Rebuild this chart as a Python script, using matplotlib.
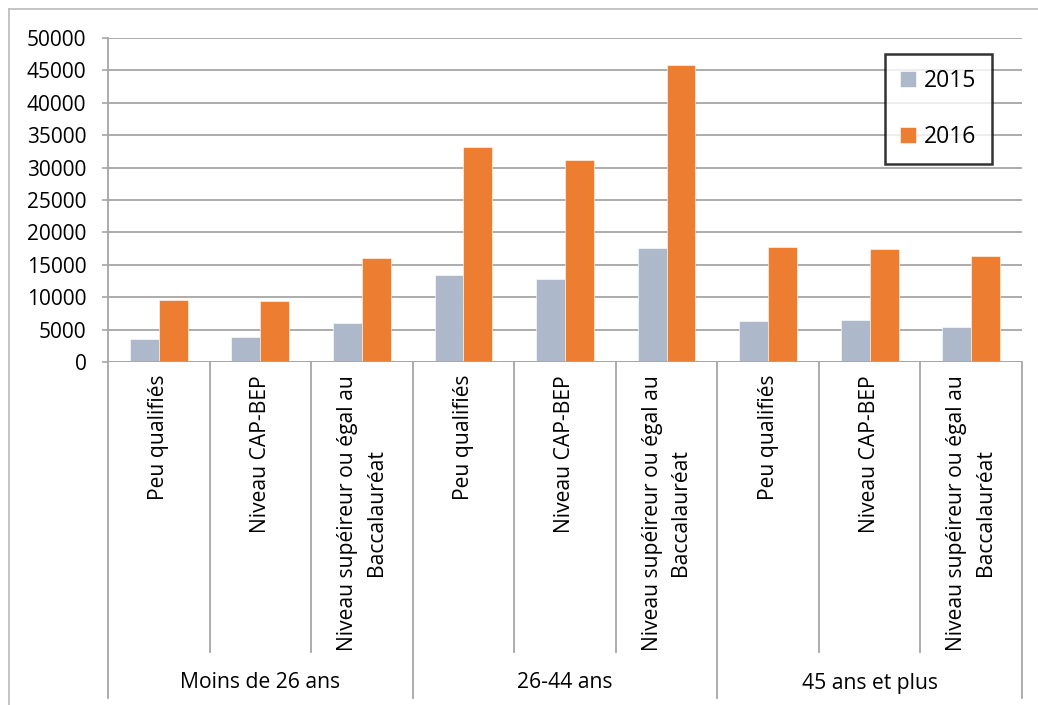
import matplotlib
matplotlib.use("Agg")
import matplotlib.pyplot as plt
import matplotlib.transforms as mtransforms
from matplotlib.lines import Line2D
import numpy as np

plt.rcParams['font.family'] = ['Open Sans', 'DejaVu Sans']

groups = ["Moins de 26 ans", "26-44 ans", "45 ans et plus"]
levels = ["Peu qualifiés", "Niveau CAP-BEP", "Niveau supéireur ou égal au\nBaccalauréat"]
series_names = ["2015", "2016"]
values_2015 = [3600, 3800, 6000, 13400, 12800, 17600, 6400, 6500, 5400]
values_2016 = [9600, 9400, 16000, 33200, 31100, 45800, 17700, 17500, 16400]
y_ticks = [0, 5000, 10000, 15000, 20000, 25000, 30000, 35000, 40000, 45000, 50000]

c2015 = "#ADB9CA"
c2016 = "#ED7D31"
grid_c = "#A6A6A6"

W, H = 1038, 705
fig = plt.figure(figsize=(W / 100, H / 100), dpi=100)
L, R, T, B = 108, 1022, 38, 362
ax = fig.add_axes([L / W, 1 - B / H, (R - L) / W, (B - T) / H])

n = len(values_2015)
x = np.arange(n)
bw = 0.285
ax.bar(x - bw / 2, values_2015, width=bw, color=c2015, edgecolor="white", linewidth=0.4, label=series_names[0], zorder=3)
ax.bar(x + bw / 2, values_2016, width=bw, color=c2016, edgecolor="white", linewidth=0.4, label=series_names[1], zorder=3)

ax.set_xlim(-0.5, n - 0.5)
ax.set_ylim(0, 50000)
ax.set_yticks(y_ticks)
ax.set_yticklabels([str(v) for v in y_ticks], fontsize=15)
ax.tick_params(axis='y', length=4.5, width=1.2, color=grid_c, pad=11)
ax.set_xticks([])
ax.grid(axis='y', color=grid_c, linewidth=1.3, zorder=0)
for s in ["top", "right", "bottom"]:
    ax.spines[s].set_visible(False)
ax.spines["left"].set_color(grid_c)
ax.spines["left"].set_linewidth(1.3)
ax.axhline(0, color=grid_c, linewidth=1.3, zorder=4)

trans = mtransforms.blended_transform_factory(ax.transData, ax.transAxes)
inner_bottom = (B - 652) / (B - T)
outer_bottom = (B - 698) / (B - T)
for i in range(n + 1):
    xb = i - 0.5
    yb = outer_bottom if i % 3 == 0 else inner_bottom
    ax.add_line(Line2D([xb, xb], [0, yb], transform=trans, color=grid_c, linewidth=1.3, clip_on=False))

label_top = (B - 375) / (B - T)
for i in range(n):
    ax.text(i, label_top, levels[i % 3], transform=trans, rotation=90, ha="center", va="top",
            fontsize=15.2, multialignment="center", linespacing=1.48)

group_y = (B - 683) / (B - T)
for g, name in enumerate(groups):
    ax.text(3 * g + 1, group_y, name, transform=trans, ha="center", va="center", fontsize=15.2)

leg = ax.legend(loc="upper left", bbox_to_anchor=(885 / W, 1 - 54 / H), bbox_transform=fig.transFigure,
                borderaxespad=0, fontsize=16.5, frameon=True, fancybox=False, edgecolor="black",
                handlelength=0.7, handleheight=0.7, handletextpad=0.35, labelspacing=1.38,
                borderpad=0.66)
leg.get_frame().set_linewidth(1.8)

# outer chart frame (top and left)
fig.add_artist(Line2D([9 / W, 1], [1 - 9 / H, 1 - 9 / H], transform=fig.transFigure, color="#BFBFBF", linewidth=1.3))
fig.add_artist(Line2D([9 / W, 9 / W], [1 - 9 / H, 0], transform=fig.transFigure, color="#BFBFBF", linewidth=1.3))

fig.savefig("out.png", dpi=100)
